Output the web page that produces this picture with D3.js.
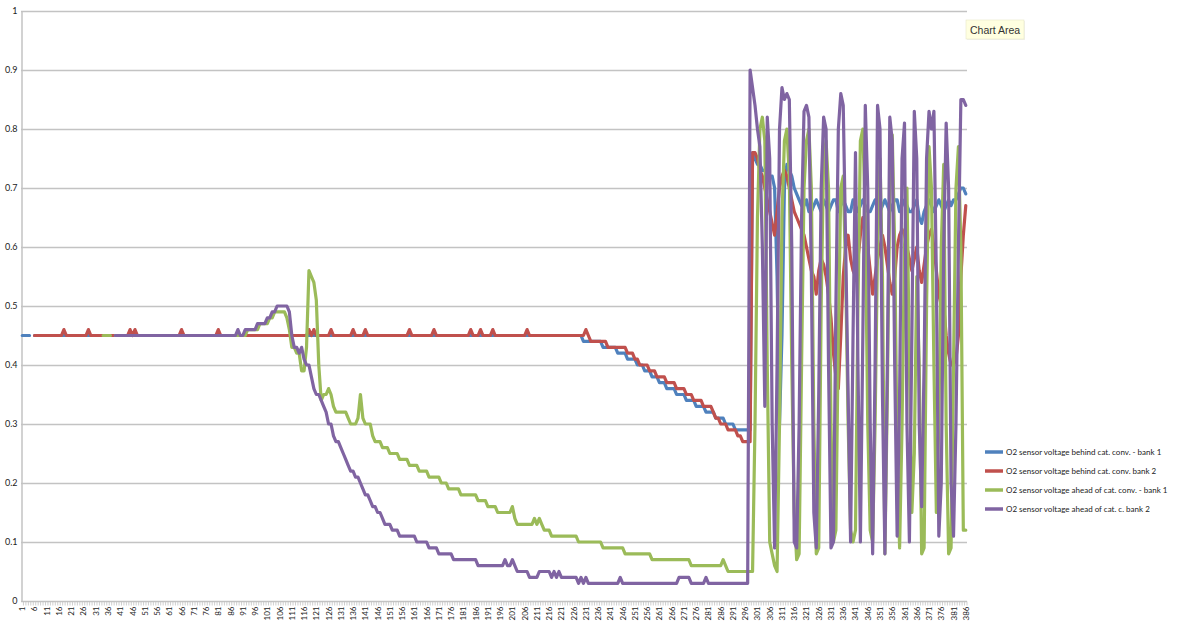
<!DOCTYPE html>
<html><head><meta charset="utf-8">
<script src="https://cdn.jsdelivr.net/npm/d3@7"></script>
<style>body{margin:0;background:#fff;overflow:hidden}svg{display:block}</style>
</head><body>
<svg id="c" width="1200" height="626"></svg>
<script>
// ---- data (volts), one value per sample 1..386 ----
const seriesNames = [
  "O2 sensor voltage behind cat. conv. - bank 1",
  "O2 sensor voltage behind cat. conv.  bank 2",
  "O2 sensor voltage ahead of cat. conv. - bank 1",
  "O2 sensor voltage ahead of cat. c.  bank 2"
];
const seriesColors = ["#4F81BD", "#C0504D", "#9BBB59", "#8064A2"];
const yTicks = [0, 0.1, 0.2, 0.3, 0.4, 0.5, 0.6, 0.7, 0.8, 0.9, 1];
const xTickLabels = [1,6,11,16,21,26,31,36,41,46,51,56,61,66,71,76,81,86,91,96,101,106,111,116,121,126,131,136,141,146,151,156,161,166,171,176,181,186,191,196,201,206,211,216,221,226,231,236,241,246,251,256,261,266,271,276,281,286,291,296,301,306,311,316,321,326,331,336,341,346,351,356,361,366,371,376,381,386];

const behindBank1 = [
.45,.45,.45,.45,null,.45,.45,.45,.45,.45,.45,.45,.45,.45,.45,.45,.45,.45,.45,.45,
.45,.45,.45,.45,.45,.45,.45,.45,.45,.45,.45,.45,.45,.45,.45,.45,.45,.45,.45,.45,
.45,.45,.45,.45,.45,.45,.45,.45,.45,.45,.45,.45,.45,.45,.45,.45,.45,.45,.45,.45,
.45,.45,.45,.45,.45,.45,.45,.45,.45,.45,.45,.45,.45,.45,.45,.45,.45,.45,.45,.45,
.45,.45,.45,.45,.45,.45,.45,.45,.45,.45,.45,.45,.45,.45,.45,.45,.45,.45,.45,.45,
.45,.45,.45,.45,.45,.45,.45,.45,.45,.45,.45,.45,.45,.45,.45,.45,.45,.45,.45,.45,
.45,.45,.45,.45,.45,.45,.45,.45,.45,.45,.45,.45,.45,.45,.45,.45,.45,.45,.45,.45,
.45,.45,.45,.45,.45,.45,.45,.45,.45,.45,.45,.45,.45,.45,.45,.45,.45,.45,.45,.45,
.45,.45,.45,.45,.45,.45,.45,.45,.45,.45,.45,.45,.45,.45,.45,.45,.45,.45,.45,.45,
.45,.45,.45,.45,.45,.45,.45,.45,.45,.45,.45,.45,.45,.45,.45,.45,.45,.45,.45,.45,
.45,.45,.45,.45,.45,.45,.45,.45,.45,.45,.45,.45,.45,.45,.45,.45,.45,.45,.45,.45,
.45,.45,.45,.45,.45,.45,.45,.45,.45,.44,.44,.44,.44,.44,.44,.44,.44,.43,.43,.43,
.43,.43,.43,.42,.42,.42,.42,.41,.41,.41,.41,.40,.40,.40,.39,.39,.39,.38,.38,.38,
.37,.37,.37,.36,.36,.36,.36,.35,.35,.35,.35,.34,.34,.34,.34,.33,.33,.33,.33,.32,
.32,.32,.32,.31,.31,.31,.31,.30,.30,.30,.30,.29,.29,.29,.29,.29,.29,.29,.76,.75,
.74,.74,.73,.73,.73,.72,.72,.70,.55,.30,.45,.70,.74,.73,.72,.70,.69,.68,.67,.67,
.68,.66,.66,.67,.68,.67,.66,.68,.67,.66,.67,.68,.68,.66,.67,.68,.67,.66,.66,.68,
.67,.66,.67,.68,.67,.66,.66,.67,.68,.67,.66,.67,.68,.67,.66,.67,.68,.68,.66,.67,
.68,.67,.66,.66,.67,.68,.65,.64,.66,.67,.68,.67,.66,.67,.68,.67,.66,.67,.68,.67,
.68,.68,.69,.70,.70,.69
];

const behindBank2 = [
null,null,null,null,null,.45,.45,.45,.45,.45,.45,.45,.45,.45,.45,.45,.45,.46,.45,.45,
.45,.45,.45,.45,.45,.45,.45,.46,.45,.45,.45,.45,.45,.45,.45,.45,.45,.45,.45,.45,
.45,.45,.45,.45,.46,.45,.46,.45,.45,.45,.45,.45,.45,.45,.45,.45,.45,.45,.45,.45,
.45,.45,.45,.45,.45,.46,.45,.45,.45,.45,.45,.45,.45,.45,.45,.45,.45,.45,.45,.45,
.46,.45,.45,.45,.45,.45,.45,.45,.45,.45,.45,.45,.45,.45,.45,.45,.45,.45,.45,.45,
.45,.45,.45,.45,.45,.45,.45,.45,.45,.45,.45,.45,.45,.45,.45,.45,.45,.46,.45,.46,
.45,.45,.45,.45,.45,.45,.46,.45,.45,.45,.45,.45,.45,.45,.45,.46,.45,.45,.45,.45,
.46,.45,.45,.45,.45,.45,.45,.45,.45,.45,.45,.45,.45,.45,.45,.45,.45,.45,.46,.45,
.45,.45,.45,.45,.45,.45,.45,.45,.46,.45,.45,.45,.45,.45,.45,.45,.45,.45,.45,.45,
.45,.45,.45,.46,.45,.45,.45,.46,.45,.45,.45,.45,.46,.45,.45,.45,.45,.45,.45,.45,
.45,.45,.45,.45,.45,.45,.46,.45,.45,.45,.45,.45,.45,.45,.45,.45,.45,.45,.45,.45,
.45,.45,.45,.45,.45,.45,.45,.45,.45,.45,.46,.45,.44,.44,.44,.44,.44,.44,.44,.43,
.43,.43,.43,.43,.43,.43,.43,.42,.42,.42,.41,.41,.40,.40,.40,.40,.39,.39,.39,.38,
.38,.38,.38,.37,.37,.37,.37,.36,.36,.36,.36,.35,.35,.35,.34,.34,.34,.34,.33,.33,
.33,.33,.32,.31,.31,.30,.30,.30,.29,.29,.29,.29,.28,.28,.27,.27,.27,.27,.76,.76,
.75,.73,.72,.70,.68,.66,.64,.62,.66,.70,.72,.73,.72,.70,.68,.66,.65,.64,.63,.62,
.60,.58,.56,.55,.52,.56,.58,.57,.55,.52,.48,.42,.38,.36,.45,.55,.60,.62,.58,.56,
.55,.58,.62,.65,.63,.60,.56,.52,.55,.58,.60,.62,.60,.57,.54,.52,.55,.60,.62,.63,
.62,.60,.58,.56,.58,.60,.56,.54,.57,.60,.62,.63,.60,.56,.52,.50,.50,.45,.42,.40,
.40,.41,.45,.55,.62,.67
];

const aheadBank1 = [
null,null,null,null,null,null,null,null,null,null,null,null,null,null,null,null,null,null,null,null,
null,null,null,null,null,null,null,null,null,null,null,null,null,.45,.45,.45,.45,null,.45,.45,
.45,.45,.45,.45,.45,.45,.45,.45,.45,.45,.45,.45,.45,.45,.45,.45,.45,.45,.45,.45,
.45,.45,.45,.45,.45,.45,.45,.45,.45,.45,.45,.45,.45,.45,.45,.45,.45,.45,.45,.45,
.45,.45,.45,.45,.45,.45,.45,.45,.45,.45,.45,.45,.46,.46,.46,.46,.46,.47,.47,.47,
.47,.48,.48,.49,.49,.49,.49,.49,.48,.46,.43,.43,.42,.42,.39,.39,.43,.56,.55,.54,
.51,.40,.34,.35,.35,.36,.35,.33,.32,.32,.32,.32,.32,.31,.30,.30,.30,.31,.35,.31,
.30,.30,.30,.28,.27,.27,.27,.26,.26,.26,.25,.25,.25,.25,.24,.24,.24,.24,.23,.23,
.23,.23,.22,.22,.22,.22,.21,.21,.21,.21,.21,.20,.20,.20,.19,.19,.19,.19,.19,.18,
.18,.18,.18,.18,.18,.18,.17,.17,.17,.17,.16,.16,.16,.16,.15,.15,.15,.15,.15,.15,
.16,.14,.13,.13,.13,.13,.13,.13,.13,.14,.13,.14,.13,.12,.12,.12,.11,.11,.11,.11,
.11,.11,.11,.11,.11,.11,.11,.10,.10,.10,.10,.10,.10,.10,.10,.10,.10,.09,.09,.09,
.09,.09,.09,.09,.09,.09,.08,.08,.08,.08,.08,.08,.08,.08,.08,.08,.08,.07,.07,.07,
.07,.07,.07,.07,.07,.07,.07,.07,.07,.07,.07,.07,.07,.06,.06,.06,.06,.06,.06,.06,
.06,.06,.06,.06,.06,.06,.07,.06,.05,.05,.05,.05,.05,.05,.05,.05,.05,.05,.05,.30,
.65,.80,.82,.78,.40,.10,.08,.06,.05,.30,.65,.78,.80,.72,.40,.15,.07,.08,.40,.70,
.78,.80,.70,.30,.08,.09,.50,.75,.78,.70,.30,.10,.12,.45,.70,.72,.55,.30,.12,.10,
.12,.50,.78,.80,.65,.30,.12,.10,.30,.60,.75,.55,.08,.35,.70,.79,.60,.25,.09,.30,
.60,.70,.40,.15,.25,.55,.40,.08,.09,.50,.77,.70,.40,.15,.30,.60,.74,.30,.08,.09,
.40,.70,.77,.60,.12,.12
];

const aheadBank2 = [
null,null,null,null,null,null,null,null,null,null,null,null,null,null,null,null,null,null,null,null,
null,null,null,null,null,null,null,null,null,null,null,null,null,null,null,null,null,null,.45,.45,
.45,.45,.45,.45,.45,.45,.45,.45,.45,.45,.45,.45,.45,.45,.45,.45,.45,.45,.45,.45,
.45,.45,.45,.45,.45,.45,.45,.45,.45,.45,.45,.45,.45,.45,.45,.45,.45,.45,.45,.45,
.45,.45,.45,.45,.45,.45,.45,.45,.46,.45,.45,.46,.46,.46,.46,.46,.47,.47,.47,.47,
.48,.48,.49,.49,.50,.50,.50,.50,.50,.49,.45,.43,.43,.42,.43,.41,.40,.40,.38,.36,
.35,.35,.34,.33,.32,.30,.30,.28,.27,.27,.26,.25,.24,.23,.22,.22,.21,.21,.20,.19,
.18,.18,.17,.16,.16,.15,.15,.14,.13,.13,.13,.12,.12,.12,.11,.11,.11,.11,.11,.11,
.11,.10,.10,.10,.10,.10,.09,.09,.09,.09,.08,.08,.08,.08,.08,.08,.07,.07,.07,.07,
.07,.07,.07,.07,.07,.07,.06,.06,.06,.06,.06,.06,.06,.06,.06,.06,.06,.07,.06,.06,
.07,.06,.05,.05,.05,.05,.05,.04,.04,.04,.04,.05,.05,.05,.05,.05,.04,.05,.04,.05,
.04,.04,.04,.04,.04,.04,.04,.03,.04,.03,.04,.03,.03,.03,.03,.03,.03,.03,.03,.03,
.03,.03,.03,.03,.04,.03,.03,.03,.03,.03,.03,.03,.03,.03,.03,.03,.03,.03,.03,.03,
.03,.03,.03,.03,.03,.03,.03,.03,.04,.04,.04,.04,.04,.03,.03,.03,.03,.03,.03,.04,
.03,.03,.03,.03,.03,.03,.03,.03,.03,.03,.03,.03,.03,.03,.03,.03,.03,.90,.87,.84,
.80,.77,.60,.33,.82,.75,.30,.09,.40,.80,.87,.85,.86,.85,.60,.10,.09,.30,.65,.83,
.84,.82,.55,.15,.09,.35,.70,.82,.80,.40,.09,.10,.50,.80,.86,.84,.60,.35,.10,.45,
.76,.40,.10,.45,.84,.70,.30,.08,.40,.84,.80,.35,.08,.40,.82,.78,.40,.11,.35,.75,
.81,.30,.10,.45,.83,.75,.30,.16,.40,.75,.83,.80,.83,.55,.11,.20,.60,.81,.70,.20,
.11,.30,.60,.85,.85,.84
];

const seriesValues = [behindBank1, behindBank2, aheadBank1, aheadBank2];
const categories = behindBank1.map((_, i) => i + 1);

// ---- layout ----
const svg = d3.select("#c");
const plot = {left: 21, right: 967, top: 11, bottom: 601};
const gridColor = "#c3c3c3";
const fontFam = "Lato, 'Liberation Sans', Arial, sans-serif";

const x = d3.scaleBand().domain(categories).range([plot.left, plot.right]).paddingInner(0).paddingOuter(0);
const y = d3.scaleLinear().domain([0, 1]).range([plot.bottom, plot.top]);

// gridlines
svg.append("g").selectAll("line").data(yTicks.filter(d => d > 0)).join("line")
  .attr("x1", plot.left).attr("x2", plot.right)
  .attr("y1", d => Math.round(y(d)) + 0.5).attr("y2", d => Math.round(y(d)) + 0.5)
  .attr("stroke", gridColor).attr("stroke-width", 1.3);

// y axis
const yAxis = d3.axisLeft(y).tickValues(yTicks).tickSize(0).tickPadding(4)
  .tickFormat(d => d3.format("~g")(d));
const gy = svg.append("g").attr("transform", `translate(${plot.left + 0.5},0)`).call(yAxis);
gy.select(".domain").attr("stroke", gridColor).attr("stroke-width", 1.5);
gy.selectAll("text").attr("font-family", fontFam).attr("font-size", 9).attr("fill", "#222");

// x axis: tick marks at every category boundary, labels every 5th
const gx = svg.append("g").attr("transform", `translate(0,${plot.bottom + 0.5})`);
gx.append("line").attr("x1", plot.left).attr("x2", plot.right).attr("stroke", gridColor).attr("stroke-width", 1.5);
gx.selectAll("line.tk").data(categories).join("line").attr("class", "tk")
  .attr("x1", d => x(d) + x.bandwidth()).attr("x2", d => x(d) + x.bandwidth())
  .attr("y1", 0).attr("y2", 4).attr("stroke", gridColor).attr("stroke-width", 0.8);
gx.selectAll("text").data(xTickLabels).join("text")
  .attr("transform", d => `translate(${x(d) + x.bandwidth() / 2 + 3},${5}) rotate(-90)`)
  .attr("text-anchor", "end")
  .attr("font-family", fontFam).attr("font-size", 8).attr("fill", "#222")
  .text(d => d);

// lines
const line = d3.line()
  .defined(d => d.v !== null)
  .x(d => x(d.c) + x.bandwidth() / 2)
  .y(d => y(d.v));

seriesValues.forEach((vals, k) => {
  const pts = vals.map((v, i) => ({c: categories[i], v}));
  svg.append("path").datum(pts)
    .attr("fill", "none").attr("stroke", seriesColors[k]).attr("stroke-width", 3.2)
    .attr("stroke-linejoin", "round").attr("stroke-linecap", "round")
    .attr("d", line);
});

// legend
const lg = svg.append("g");
const legendY = d3.scalePoint().domain(seriesNames).range([452, 509]);
seriesNames.forEach((n, k) => {
  const yy = legendY(n);
  lg.append("line").attr("x1", 985).attr("x2", 1003).attr("y1", yy).attr("y2", yy)
    .attr("stroke", seriesColors[k]).attr("stroke-width", 3.5);
  lg.append("text").attr("x", 1006).attr("y", yy + 3)
    .attr("font-family", fontFam).attr("font-size", 8).attr("fill", "#222").text(n);
});

// "Chart Area" tooltip
const tip = svg.append("g").attr("transform", "translate(966,20)");
tip.append("rect").attr("x", 1).attr("y", 1).attr("width", 58).attr("height", 19).attr("fill", "#e8e8e0").attr("opacity", 0.6);
tip.append("rect").attr("width", 58).attr("height", 19).attr("fill", "#ffffe0").attr("stroke", "#e6e6c8").attr("stroke-width", 0.6);
tip.append("text").attr("x", 4).attr("y", 13.5).attr("font-family", "'Liberation Sans', Arial, sans-serif")
  .attr("font-size", 10.5).attr("fill", "#333").text("Chart Area");
</script>
</body></html>
